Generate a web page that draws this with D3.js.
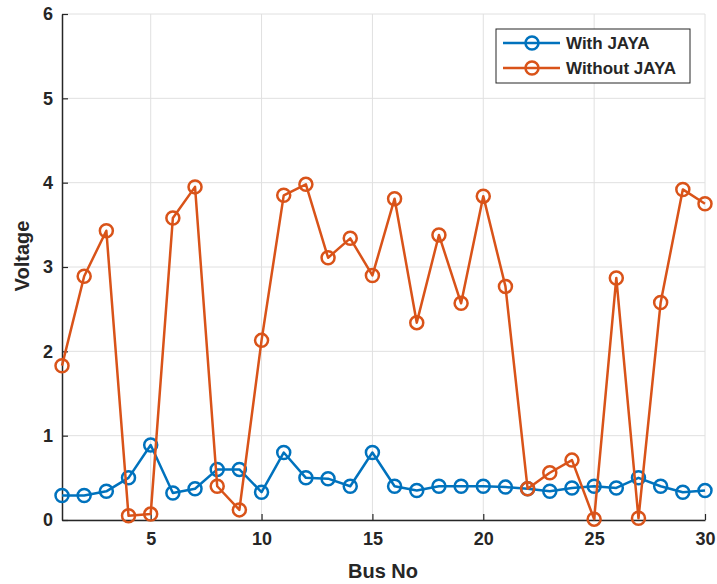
<!DOCTYPE html>
<html lang="en">
<head>
<meta charset="UTF-8">
<title>Voltage vs Bus No</title>
<script src="https://d3js.org/d3.v7.min.js"></script>
<style>
  body { margin: 0; background: #fff; }
  text { font-family: "Liberation Sans", Arial, sans-serif; font-weight: bold; fill: #262626; }
</style>
</head>
<body>
<svg width="717" height="584" id="mainsvg"></svg>
<script>
const busNo = d3.range(1, 31)
const withJaya = [0.29, 0.29, 0.34, 0.50, 0.89, 0.32, 0.37, 0.60, 0.60, 0.33,
                  0.80, 0.50, 0.49, 0.40, 0.80, 0.40, 0.35, 0.40, 0.40, 0.40,
                  0.39, 0.37, 0.34, 0.38, 0.40, 0.38, 0.50, 0.40, 0.33, 0.35]
const withoutJaya = [1.83, 2.89, 3.43, 0.05, 0.07, 3.58, 3.95, 0.40, 0.12, 2.13,
                     3.85, 3.98, 3.11, 3.34, 2.90, 3.81, 2.34, 3.38, 2.57, 3.84,
                     2.77, 0.37, 0.56, 0.71, 0.01, 2.87, 0.02, 2.58, 3.92, 3.75]
const xTicks = [5, 10, 15, 20, 25, 30]
const yTicks = [0, 1, 2, 3, 4, 5, 6]
const seriesNames = ["With JAYA", "Without JAYA"]
const colors = ["#0072BD", "#D95319"]

const svg = d3.select("#mainsvg")
const plotLeft = 62, plotRight = 705, plotTop = 14, plotBottom = 520

const xScale = d3.scaleLinear().domain([1, 30]).range([plotLeft, plotRight])
const yScale = d3.scaleLinear().domain([0, 6]).range([plotBottom, plotTop])

// grid
const grid = svg.append("g")
grid.selectAll(".gx").data(xTicks).join("line")
  .attr("x1", d => xScale(d)).attr("x2", d => xScale(d))
  .attr("y1", plotTop).attr("y2", plotBottom)
  .attr("stroke", "#e0e0e0").attr("stroke-width", 1)
grid.selectAll(".gy").data(yTicks).join("line")
  .attr("x1", plotLeft).attr("x2", plotRight)
  .attr("y1", d => yScale(d)).attr("y2", d => yScale(d))
  .attr("stroke", "#e0e0e0").attr("stroke-width", 1)

// axes (ticks pointing inward)
const xAxis = d3.axisBottom(xScale).tickValues(xTicks).tickFormat(d3.format("d"))
  .tickSizeInner(-6).tickSizeOuter(0).tickPadding(14)
const yAxis = d3.axisLeft(yScale).tickValues(yTicks).tickFormat(d3.format("d"))
  .tickSizeInner(-6).tickSizeOuter(0).tickPadding(14)

const gx = svg.append("g").attr("transform", `translate(0, ${plotBottom})`).call(xAxis)
const gy = svg.append("g").attr("transform", `translate(${plotLeft}, 0)`).call(yAxis)
;[gx, gy].forEach(g => {
  g.select(".domain").attr("stroke", "#262626").attr("stroke-width", 1.5)
  g.selectAll(".tick line").attr("stroke", "#262626").attr("stroke-width", 1.2)
  g.selectAll(".tick text").attr("font-size", 18).attr("font-family", "Liberation Sans, Arial, sans-serif")
    .attr("font-weight", "bold").attr("fill", "#262626")
})
gy.selectAll(".tick text").attr("x", -9)
gx.selectAll(".tick text").attr("y", 12)

// axis labels
svg.append("text").attr("x", 383).attr("y", 578).attr("text-anchor", "middle")
  .attr("font-size", 20).text("Bus No")
svg.append("text").attr("transform", "translate(29, 256) rotate(-90)").attr("text-anchor", "middle")
  .attr("font-size", 20).text("Voltage")

// series
const series = [withJaya, withoutJaya]
const line = d3.line().x((d, i) => xScale(busNo[i])).y(d => yScale(d))
series.forEach((vals, k) => {
  const g = svg.append("g")
  g.append("path").datum(vals).attr("d", line)
    .attr("fill", "none").attr("stroke", colors[k]).attr("stroke-width", 2.5)
    .attr("stroke-linejoin", "round")
  g.selectAll("circle").data(vals).join("circle")
    .attr("cx", (d, i) => xScale(busNo[i])).attr("cy", d => yScale(d))
    .attr("r", 6.5).attr("fill", "none").attr("stroke", colors[k]).attr("stroke-width", 2.5)
})

// legend
const lg = svg.append("g")
lg.append("rect").attr("x", 496).attr("y", 29).attr("width", 194).attr("height", 54)
  .attr("fill", "#fff").attr("stroke", "#262626").attr("stroke-width", 1)
seriesNames.forEach((name, k) => {
  const y = 43 + k * 25
  lg.append("line").attr("x1", 503).attr("x2", 560).attr("y1", y).attr("y2", y)
    .attr("stroke", colors[k]).attr("stroke-width", 2.5)
  lg.append("circle").attr("cx", 532).attr("cy", y).attr("r", 6.5)
    .attr("fill", "none").attr("stroke", colors[k]).attr("stroke-width", 2.5)
  lg.append("text").attr("x", 566).attr("y", y + 6).attr("font-size", 17).text(name)
})
</script>
</body>
</html>
